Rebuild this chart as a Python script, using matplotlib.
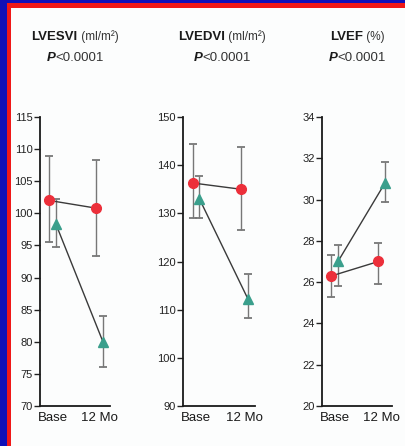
import matplotlib.pyplot as plt
from matplotlib.patches import Rectangle
from matplotlib.offsetbox import TextArea, HPacker, AnnotationBbox

plt.rcParams['font.family'] = ['Liberation Sans Narrow', 'Liberation Sans', 'DejaVu Sans']

timepoints = ['Base', '12 Mo']

# LVESVI (ml/m2)
esvi_red = [102.0, 100.8]
esvi_red_lo = [95.5, 93.3]
esvi_red_hi = [109.0, 108.3]
esvi_green = [98.3, 80.0]
esvi_green_lo = [94.7, 76.0]
esvi_green_hi = [102.2, 84.0]

# LVEDVI (ml/m2)
edvi_red = [136.3, 135.0]
edvi_red_lo = [129.0, 126.5]
edvi_red_hi = [144.3, 143.7]
edvi_green = [133.0, 112.3]
edvi_green_lo = [129.0, 108.3]
edvi_green_hi = [137.7, 117.5]

# LVEF (%)
ef_red = [26.3, 27.0]
ef_red_lo = [25.3, 25.9]
ef_red_hi = [27.3, 27.9]
ef_green = [27.0, 30.8]
ef_green_lo = [25.8, 29.9]
ef_green_hi = [27.8, 31.8]

titles = ['LVESVI', 'LVEDVI', 'LVEF']
units = [' (ml/m\u00b2)', ' (ml/m\u00b2)', ' (%)']
p_text = '<0.0001'

RED = '#ec2f3a'
TEAL = '#3a9f8c'
W, H = 406, 446

fig = plt.figure(figsize=(W / 100, H / 100), dpi=100)
fig.patch.set_facecolor('#1010b8')
# red frame and white page
fig.add_artist(Rectangle((7 / W, 0), 1, 1 - 3 / H, transform=fig.transFigure,
                         facecolor='#f01818', edgecolor='none', zorder=0))
fig.add_artist(Rectangle((11 / W, 0), 1, 1 - 8 / H, transform=fig.transFigure,
                         facecolor='#fcfdfd', edgecolor='none', zorder=0))

panels = [
    (40, 110, (70, 115), range(70, 116, 5),
     esvi_red, esvi_red_lo, esvi_red_hi, esvi_green, esvi_green_lo, esvi_green_hi),
    (183, 255, (90, 150), range(90, 151, 10),
     edvi_red, edvi_red_lo, edvi_red_hi, edvi_green, edvi_green_lo, edvi_green_hi),
    (322, 392, (20, 34), range(20, 35, 2),
     ef_red, ef_red_lo, ef_red_hi, ef_green, ef_green_lo, ef_green_hi),
]
title_x = [75, 222, 357]

xs = [0, 1]
off = 0.07
for i, (x0, x1, ylim, yticks, r, rlo, rhi, g, glo, ghi) in enumerate(panels):
    ax = fig.add_axes([x0 / W, 40 / H, (x1 - x0) / W, 289 / H])
    ax.set_facecolor('none')
    xr = [x - off for x in xs]
    xg = [x + off for x in xs]
    for xx, v, lo, hi, col, mk, ms in [(xr, r, rlo, rhi, RED, 'o', 7),
                                       (xg, g, glo, ghi, TEAL, '^', 6.5)]:
        yerr = [[v[k] - lo[k] for k in range(2)], [hi[k] - v[k] for k in range(2)]]
        ax.errorbar(xx, v, yerr=yerr, fmt='none', ecolor='#777777',
                    elinewidth=1.0, capsize=3, capthick=1.3, zorder=2)
        ax.plot(xx, v, color='#3a3a3a', lw=1.0, zorder=3)
        ax.plot(xx, v, linestyle='none', marker=mk, ms=ms, color=col,
                markeredgecolor=col, zorder=4)
    ax.set_xlim(-0.27, 1.22)
    ax.set_ylim(*ylim)
    ax.set_yticks(list(yticks))
    ax.set_xticks(xs)
    ax.set_xticklabels(timepoints, fontsize=9.5, color='#1a1a1a')
    ax.tick_params(axis='x', length=0, pad=4)
    ax.tick_params(axis='y', direction='out', length=4, width=1,
                   labelsize=8, colors='#222222', pad=1)
    for s in ['top', 'right']:
        ax.spines[s].set_visible(False)
    for s in ['left', 'bottom']:
        ax.spines[s].set_linewidth(1.3)
        ax.spines[s].set_color('#1a1a1a')

    # two-line header above each panel
    line1 = HPacker(children=[
        TextArea(titles[i], textprops=dict(fontsize=9.5, fontweight='bold', color='#1a1a1a')),
        TextArea(units[i], textprops=dict(fontsize=8.5, color='#333333')),
    ], pad=0, sep=0, align='baseline')
    line2 = HPacker(children=[
        TextArea('P', textprops=dict(fontsize=9.5, fontstyle='italic', fontweight='bold', color='#1a1a1a')),
        TextArea(p_text, textprops=dict(fontsize=9.5, color='#333333')),
    ], pad=0, sep=0, align='baseline')
    for box, yy in [(line1, 37), (line2, 58)]:
        ab = AnnotationBbox(box, (title_x[i] / W, 1 - yy / H), xycoords='figure fraction',
                            frameon=False, box_alignment=(0.5, 0.5), pad=0)
        fig.add_artist(ab)

fig.savefig('out.png', dpi=100, facecolor=fig.get_facecolor())
